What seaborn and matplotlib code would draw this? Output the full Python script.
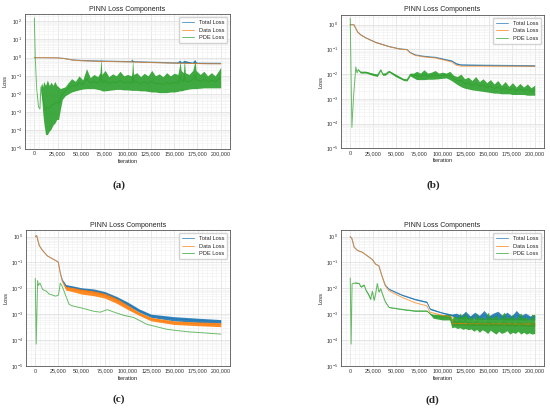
import pandas as pd
import seaborn as sns
import matplotlib
matplotlib.use("Agg")
import matplotlib.pyplot as plt
from matplotlib.ticker import FuncFormatter, LogLocator, AutoMinorLocator, NullFormatter

# ---- panel (a) ----
a_total_it = [0, 10000, 25000, 32000, 40000, 50000, 70000, 90000, 104000, 105000, 106000, 125000,
              142000, 154000, 156000, 158000, 161000, 170000, 172000, 174000, 185000, 200000]
a_total_lo = [1.0, 1.0, 0.98, 0.9, 0.76, 0.69, 0.64, 0.61, 0.59, 0.59, 0.59, 0.55,
              0.52, 0.5, 0.5, 0.5, 0.5, 0.48, 0.48, 0.48, 0.47, 0.47]
a_total_hi = [1.0, 1.0, 0.99, 0.92, 0.8, 0.73, 0.7, 0.66, 0.64, 0.85, 0.64, 0.6,
              0.56, 0.55, 0.75, 0.55, 0.7, 0.54, 0.8, 0.54, 0.53, 0.52]
a_data_it = [0, 10000, 25000, 32000, 40000, 50000, 70000, 90000, 106000, 125000, 142000, 160000, 180000, 200000]
a_data_lo = [1.0, 1.0, 0.98, 0.9, 0.75, 0.68, 0.63, 0.6, 0.58, 0.54, 0.51, 0.49, 0.47, 0.46]
a_data_hi = a_data_lo
a_pde_it = [0, 1000, 2500, 4500, 6000, 7000, 8000, 9000, 10000, 12000, 14000, 16000, 18000, 20000,
            22000, 24000, 26000, 28000, 30000, 33000,
            36000, 40000, 44000, 48000, 52000, 56000, 60000, 64000, 68000, 70500,
            71500, 72500, 76000, 80000, 84000, 88000, 92000, 96000, 100000, 104500,
            105500, 106500, 110000, 114000, 118000, 122000, 126000, 130000, 134000, 138000,
            142000, 146000, 150000, 154000, 155500, 156500, 157500, 160000, 161000, 162000,
            166000, 170000, 171500, 172500, 173500, 178000, 182000, 186000, 190000, 194000,
            198000, 200000]
a_pde_lo = [150, 1.0, 0.02, 0.002, 0.0015, 0.02, 0.005, 0.001, 0.0003, 6e-5, 6e-5, 9e-5, 1.2e-4, 2e-4,
            2.5e-4, 4e-4, 4e-4, 1.5e-3, 5e-3, 8e-3,
            0.01, 0.013, 0.015, 0.017, 0.019, 0.02, 0.02, 0.02, 0.018, 0.017,
            0.016, 0.015, 0.015, 0.016, 0.017, 0.018, 0.018, 0.017, 0.017, 0.016,
            0.016, 0.016, 0.016, 0.015, 0.015, 0.014, 0.013, 0.013, 0.012, 0.012,
            0.012, 0.013, 0.013, 0.014, 0.015, 0.015, 0.015, 0.016, 0.017, 0.017,
            0.019, 0.02, 0.02, 0.02, 0.02, 0.021, 0.022, 0.022, 0.022, 0.022,
            0.022, 0.022]
a_pde_hi = [150, 1.0, 0.02, 0.002, 0.0015, 0.03, 0.04, 0.025, 0.05, 0.03, 0.06, 0.03, 0.045, 0.03,
            0.05, 0.03, 0.025, 0.02, 0.022, 0.025,
            0.04, 0.07, 0.05, 0.1, 0.06, 0.25, 0.08, 0.12, 0.09, 0.15,
            1.0, 0.12, 0.2, 0.09, 0.13, 0.1, 0.18, 0.1, 0.12, 0.1,
            0.8, 0.12, 0.15, 0.09, 0.14, 0.1, 0.2, 0.1, 0.13, 0.09,
            0.15, 0.1, 0.14, 0.12, 0.3, 0.6, 0.2, 0.15, 0.9, 0.15,
            0.12, 0.2, 0.4, 0.8, 0.2, 0.12, 0.18, 0.1, 0.15, 0.1,
            0.2, 0.3]

# ---- panel (b) ----
b_data_it = [0, 4000, 8000, 11500, 17000, 27500, 42000, 52600, 61500, 65000, 70500, 81000, 92000,
             103000, 110000, 115000, 120000, 150000, 200000]
b_data_lo = [1.0, 1.0, 0.5, 0.38, 0.29, 0.19, 0.13, 0.105, 0.097, 0.072, 0.057, 0.049, 0.045,
             0.036, 0.031, 0.023, 0.021, 0.021, 0.021]
b_data_hi = b_data_lo
b_total_it = b_data_it
b_total_lo = [1.0, 1.0, 0.5, 0.38, 0.29, 0.19, 0.13, 0.106, 0.098, 0.074, 0.059, 0.051, 0.047,
              0.038, 0.033, 0.025, 0.023, 0.022, 0.021]
b_total_hi = [1.0, 1.0, 0.52, 0.4, 0.3, 0.2, 0.135, 0.11, 0.1, 0.078, 0.062, 0.054, 0.05,
              0.041, 0.036, 0.028, 0.025, 0.024, 0.023]
b_pde_it = [0, 1800, 3600, 6000, 7200, 8600, 11000, 17000, 24000, 29300, 33000, 35000, 38000, 42000,
            49000, 58000, 61500, 65000, 68700,
            72000, 76000, 80000, 84000, 88000, 92000, 96000, 100000, 104000, 108000,
            112000, 116000, 120000, 124000, 128000, 132000, 136000, 140000, 144000, 148000,
            152000, 156000, 160000, 164000, 168000, 172000, 176000, 180000, 184000, 188000,
            192000, 196000, 200000]
b_pde_lo = [1.8, 7e-5, 0.0012, 0.019, 0.011, 0.015, 0.011, 0.011, 0.009, 0.008, 0.014, 0.009, 0.009,
            0.012, 0.008, 0.0055, 0.0053, 0.0085, 0.007,
            0.006, 0.006, 0.006, 0.0062, 0.0062, 0.0063, 0.0065, 0.0068, 0.007, 0.006,
            0.0048, 0.0038, 0.0031, 0.0027, 0.0025, 0.0023, 0.0022, 0.0021, 0.002, 0.0019,
            0.0018, 0.0017, 0.0017, 0.0016, 0.0016, 0.0016, 0.0015, 0.0015, 0.0015, 0.0015,
            0.0014, 0.0014, 0.0014]
b_pde_hi = [1.8, 7e-5, 0.0012, 0.02, 0.012, 0.016, 0.013, 0.013, 0.011, 0.01, 0.016, 0.011, 0.011,
            0.014, 0.01, 0.0065, 0.0065, 0.011, 0.011,
            0.013, 0.011, 0.015, 0.011, 0.012, 0.014, 0.011, 0.012, 0.011, 0.013,
            0.009, 0.008, 0.01, 0.0065, 0.0075, 0.0055, 0.008, 0.005, 0.0065, 0.0045,
            0.006, 0.004, 0.0055, 0.0035, 0.005, 0.0032, 0.0045, 0.003, 0.0042, 0.003,
            0.004, 0.0028, 0.0036]

# ---- panel (c) ----
c_data_it = [0, 1500, 4300, 7900, 13000, 20000, 24700, 27000, 29000, 33000, 40000, 50000, 63000,
             75000, 88000, 100000, 112000, 125000, 150000, 175000, 200000]
c_data_lo = [1.0, 1.1, 0.45, 0.29, 0.18, 0.13, 0.105, 0.038, 0.018, 0.0085, 0.0075, 0.006, 0.0052,
             0.0042, 0.0026, 0.0015, 0.0009, 0.00055, 0.0004, 0.00036, 0.00033]
c_data_hi = [1.0, 1.1, 0.45, 0.29, 0.18, 0.13, 0.105, 0.038, 0.02, 0.012, 0.011, 0.0095, 0.0083,
             0.0066, 0.0042, 0.0022, 0.0012, 0.00075, 0.00055, 0.0005, 0.00047]
c_total_it = c_data_it
c_total_lo = [1.0, 1.1, 0.45, 0.29, 0.18, 0.13, 0.105, 0.04, 0.02, 0.011, 0.0098, 0.0082, 0.0068,
              0.0055, 0.0035, 0.0021, 0.0012, 0.00075, 0.00055, 0.00048, 0.00045]
c_total_hi = [1.0, 1.1, 0.45, 0.29, 0.18, 0.13, 0.105, 0.04, 0.022, 0.014, 0.0125, 0.0105, 0.0095,
              0.0075, 0.0048, 0.0029, 0.0016, 0.001, 0.0008, 0.0007, 0.00062]
c_pde_it = [0, 1000, 2500, 3500, 5000, 6500, 8000, 11500, 15000, 22000, 25000, 27000, 29000, 33000,
            36500, 40000, 51000, 63000, 70000, 77600, 85000, 95500, 106000, 120000, 142000, 164000, 200000]
c_pde_lo = [0.024, 7e-5, 0.02, 0.013, 0.016, 0.012, 0.009, 0.008, 0.006, 0.005, 0.0055, 0.016, 0.012,
            0.005, 0.0024, 0.0021, 0.0017, 0.0013, 0.0012, 0.0015, 0.0012, 0.0009, 0.00075, 0.00041,
            0.00026, 0.00021, 0.00017]
c_pde_hi = c_pde_lo

# ---- panel (d) ----
d_data_it = [0, 1800, 4300, 7900, 13000, 18600, 24000, 27500, 31000, 34700, 38000, 42000, 56000,
             70000, 83000, 86500, 99000, 110000, 111000, 130000, 150000, 175000, 200000]
d_data_lo = [1.0, 0.85, 0.39, 0.29, 0.25, 0.18, 0.13, 0.086, 0.075, 0.028, 0.0125, 0.0081, 0.0045,
             0.0028, 0.0021, 0.0012, 0.0009, 0.00075, 0.00038, 0.00037, 0.00036, 0.00036, 0.00035]
d_data_hi = [1.0, 0.85, 0.39, 0.29, 0.25, 0.18, 0.13, 0.086, 0.075, 0.028, 0.0125, 0.0081, 0.0045,
             0.0028, 0.0021, 0.0012, 0.00095, 0.0008, 0.00052, 0.0005, 0.0005, 0.00049, 0.00048]
d_total_it = [0, 1800, 4300, 7900, 13000, 18600, 24000, 27500, 31000, 34700, 38000, 42000, 56000,
              70000, 83000, 86500, 99000, 110000,
              115000, 120000, 125000, 130000, 135000, 140000, 145000, 150000, 155000,
              160000, 165000, 170000, 175000, 180000, 185000, 190000, 195000, 200000]
d_total_lo = [1.0, 0.85, 0.39, 0.29, 0.25, 0.18, 0.13, 0.086, 0.075, 0.028, 0.013, 0.009, 0.0053,
              0.0036, 0.0028, 0.0015, 0.0011, 0.00085,
              0.00068, 0.00066, 0.00065, 0.00064, 0.00064, 0.00063, 0.00062, 0.00062, 0.00062,
              0.00061, 0.00061, 0.0006, 0.0006, 0.0006, 0.0006, 0.0006, 0.0006, 0.0006]
d_total_hi = [1.0, 0.85, 0.39, 0.29, 0.25, 0.18, 0.13, 0.086, 0.075, 0.028, 0.0135, 0.0097, 0.0058,
              0.004, 0.0031, 0.0017, 0.0012, 0.001,
              0.0011, 0.0009, 0.0013, 0.00085, 0.0012, 0.0009, 0.0014, 0.00085, 0.0011,
              0.0013, 0.0009, 0.0012, 0.00085, 0.0014, 0.0009, 0.0011, 0.00085, 0.001]
d_pde_it = [0, 1000, 2000, 6000, 9600, 11500, 15000, 17000, 20000, 22000, 24000, 25800, 27500, 29300,
            31000, 33000, 34700, 38000, 42000, 56000, 70000, 83000, 86500, 90000, 100000,
            108000, 110000, 113000, 116000, 119000, 122000, 125000, 128000, 131000, 134000,
            137000, 140000, 143000, 146000, 149000, 152000, 155000, 158000, 161000, 164000,
            167000, 170000, 173000, 176000, 179000, 182000, 185000, 188000, 191000, 194000,
            197000, 200000]
d_pde_lo = [0.025, 7e-5, 0.015, 0.016, 0.015, 0.011, 0.013, 0.0081, 0.0052, 0.0036, 0.0074, 0.0033,
            0.006, 0.015, 0.007, 0.0094, 0.006, 0.0029, 0.0018, 0.0015, 0.0013, 0.0013, 0.001, 0.0007,
            0.0006,
            0.0006, 0.0003, 0.00032, 0.00028, 0.0003, 0.00026, 0.00028, 0.00025, 0.00027, 0.00022,
            0.00026, 0.0002, 0.00025, 0.00022, 0.00018, 0.00024, 0.0002, 0.00017, 0.00022, 0.00018,
            0.0002, 0.00023, 0.00017, 0.0002, 0.00018, 0.00022, 0.00017, 0.0002, 0.00017, 0.00019,
            0.00017, 0.00018]
d_pde_hi = [0.025, 7e-5, 0.015, 0.017, 0.016, 0.012, 0.014, 0.009, 0.006, 0.004, 0.008, 0.0037,
            0.0065, 0.016, 0.0075, 0.01, 0.0065, 0.0031, 0.0019, 0.0016, 0.0014, 0.0014, 0.0011, 0.001,
            0.00095,
            0.001, 0.00065, 0.0009, 0.0007, 0.0011, 0.0008, 0.0012, 0.0007, 0.0009, 0.0006,
            0.0011, 0.0007, 0.0008, 0.0006, 0.0012, 0.0008, 0.0007, 0.0011, 0.0006, 0.0009,
            0.0012, 0.0007, 0.0008, 0.001, 0.0006, 0.0009, 0.0011, 0.0007, 0.0008, 0.0006,
            0.001, 0.0009]

series_names = ["Total Loss", "Data Loss", "PDE Loss"]
series_colors = ["#1f77b4", "#ff7f0e", "#2ca02c"]
panel_labels = ["(a)", "(b)", "(c)", "(d)"]
panel_ytop = [250, 2.5, 1.8, 1.8]


def long_frame(parts):
    # two rows per iteration (low and high edge of the noisy curve)
    rows = []
    for name, its, lo, hi in parts:
        assert len(its) == len(lo) == len(hi), name
        for x, a, b in zip(its, lo, hi):
            rows.append((x, a, name))
            rows.append((x, b, name))
    return pd.DataFrame(rows, columns=["Iteration", "Loss", "Series"])


panels = [
    long_frame([("Total Loss", a_total_it, a_total_lo, a_total_hi),
                ("Data Loss", a_data_it, a_data_lo, a_data_hi),
                ("PDE Loss", a_pde_it, a_pde_lo, a_pde_hi)]),
    long_frame([("Total Loss", b_total_it, b_total_lo, b_total_hi),
                ("Data Loss", b_data_it, b_data_lo, b_data_hi),
                ("PDE Loss", b_pde_it, b_pde_lo, b_pde_hi)]),
    long_frame([("Total Loss", c_total_it, c_total_lo, c_total_hi),
                ("Data Loss", c_data_it, c_data_lo, c_data_hi),
                ("PDE Loss", c_pde_it, c_pde_lo, c_pde_hi)]),
    long_frame([("Total Loss", d_total_it, d_total_lo, d_total_hi),
                ("Data Loss", d_data_it, d_data_lo, d_data_hi),
                ("PDE Loss", d_pde_it, d_pde_lo, d_pde_hi)]),
]

sns.set_style("whitegrid")
plt.rcParams["font.family"] = ["Liberation Sans", "DejaVu Sans"]
plt.rcParams["mathtext.fontset"] = "custom"
plt.rcParams["mathtext.rm"] = "Liberation Sans"
plt.rcParams["mathtext.it"] = "Liberation Sans:italic"
plt.rcParams["mathtext.bf"] = "Liberation Sans:bold"

fig = plt.figure(figsize=(5.5, 4.13), dpi=100)

# axes boxes in figure fraction: left, bottom, width, height
boxes = [
    [0.0455, 0.640, 0.3727, 0.326],
    [0.620, 0.641, 0.369, 0.323],
    [0.0473, 0.114, 0.371, 0.329],
    [0.620, 0.114, 0.369, 0.329],
]
label_pos = [(0.216, 0.552), (0.787, 0.552), (0.216, 0.034), (0.787, 0.032)]

for i, df in enumerate(panels):
    ax = fig.add_axes(boxes[i])
    ax.set_yscale("log")
    sns.lineplot(data=df, x="Iteration", y="Loss", hue="Series", hue_order=series_names,
                 palette=series_colors, errorbar=("pi", 100), err_kws={"alpha": 0.9, "linewidth": 0},
                 linewidth=0.7, alpha=0.7, ax=ax)
    ax.set_xlim(-10000, 210000)
    ax.set_ylim(1e-5, panel_ytop[i])
    ax.set_xticks(range(0, 200001, 25000))
    ax.xaxis.set_major_formatter(FuncFormatter(lambda v, p: f"{int(v):,}"))
    ax.xaxis.set_minor_locator(AutoMinorLocator(5))
    ax.yaxis.set_major_locator(LogLocator(base=10, numticks=12))
    ax.yaxis.set_minor_locator(LogLocator(base=10, subs=range(2, 10), numticks=12))
    ax.yaxis.set_minor_formatter(NullFormatter())
    ax.grid(True, which="major", color="#dddddd", linewidth=0.5)
    ax.grid(True, which="minor", color="#f0f0f0", linewidth=0.4)
    ax.tick_params(axis="both", which="both", labelsize=3.9, colors="#333333", pad=2, length=0)
    for s in ax.spines.values():
        s.set_edgecolor("#555555")
        s.set_linewidth(0.6)
    ax.set_title("PINN Loss Components", fontsize=5, color="#222222", pad=2.5)
    ax.set_xlabel("Iteration", fontsize=4.1, color="#222222", labelpad=1.5)
    ax.set_ylabel("Loss", fontsize=4.1, color="#222222", labelpad=1.5)
    handles, labels = ax.get_legend_handles_labels()
    ax.legend(handles, labels, loc="upper right", fontsize=4.1, frameon=True, framealpha=0.85,
              edgecolor="#cccccc", borderpad=0.5, handlelength=2.2, labelspacing=0.5)
    fig.text(label_pos[i][0], label_pos[i][1], panel_labels[i], ha="center", va="center",
             fontsize=8, fontweight="bold", family="Liberation Serif")

fig.savefig("out.png", dpi=100)
